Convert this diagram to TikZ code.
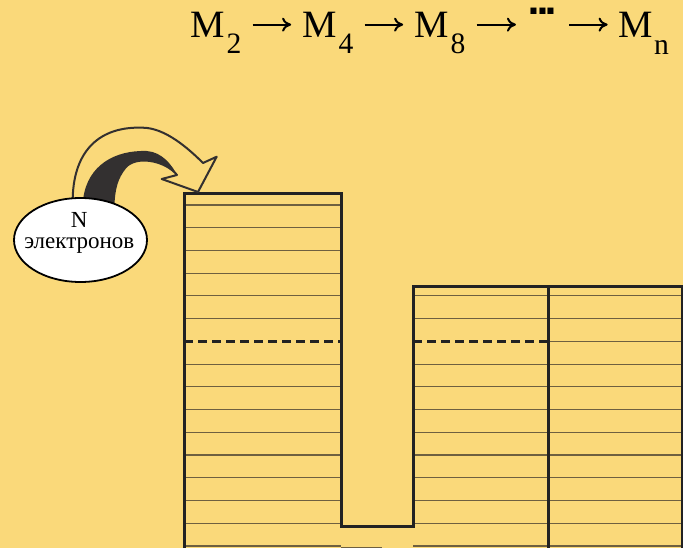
\documentclass[tikz,border=0pt]{standalone}
\usepackage{fontspec}
\usepackage{tikz}
\usetikzlibrary{positioning,arrows.meta,shapes.geometric}
\setmainfont{Liberation Serif}
\newfontfamily\dotfont{DejaVu Sans}
\newcommand{\titleM}{\fontsize{38.7}{38.7}\selectfont}
\newcommand{\titleSub}{\fontsize{29.6}{29.6}\selectfont}
\definecolor{wellBg}{HTML}{FAD97A}
\definecolor{wellWall}{HTML}{222222}
\definecolor{wellLevel}{HTML}{6E6040}
\definecolor{arrowDark}{HTML}{333030}
\tikzset{
  wall/.style={line width=3pt, draw=wellWall},
  level/.style={line width=1.1pt, draw=wellLevel},
  fermi/.style={wall, dash pattern=on 9pt off 5pt},
  electron/.style={ellipse, draw=black, line width=1.8pt, fill=white, minimum width=133pt, minimum height=84pt, inner sep=0pt},
  bigM/.style={inner sep=0pt, anchor=base, font=\titleM},
  subIdx/.style={inner sep=0pt, anchor=base, font=\titleSub},
  chainArrow/.style={-{Computer Modern Rightarrow[length=9pt,width=14pt]}, line width=2pt, shorten >=11pt, shorten <=11pt, yshift=-1.8pt}
}

\begin{document}
\begin{tikzpicture}[x=1pt, y=-1pt]
  \fill[wellBg] (0,0) rectangle (683,548);
  \useasboundingbox (0,0) rectangle (683,548);

  % energy levels
  \foreach \k in {0,...,15} {
    \ifnum\k=6\else
      \draw[level] (184,{205+22.73*\k}) -- (341,{205+22.73*\k});
    \fi
  }
  \foreach \k in {4,...,15} {
    \ifnum\k=6\else
      \draw[level] (413,{205+22.73*\k}) -- (548,{205+22.73*\k});
    \fi
    \draw[level] (548,{205+22.73*\k}) -- (682,{205+22.73*\k});
  }
  \draw[level, line width=2pt] (341,547.5) -- (382,547.5);

  % Fermi level
  \draw[fermi] (184,341.4) -- (341,341.4);
  \draw[fermi] (413,341.4) -- (548,341.4);

  % wells
  \draw[wall] (184,548) -- (184,194) -- (341,194) -- (341,526) -- (413,526) -- (413,287) -- (682,287) -- (682,548);
  \draw[wall] (548,287) -- (548,548);

  % curved arrow
  \draw[draw=arrowDark, line width=2pt, line join=round] (72.7,208) -- (72.7,198)
    .. controls (74,150) and (100,126) .. (143,127.7)
    .. controls (165,128) and (188,148) .. (203,163)
    -- (216.7,156.7) -- (198,192) -- (161.7,179) -- (177,175)
    .. controls (165,160) and (135,155) .. (125,168)
    .. controls (117,178) and (114,188) .. (113.3,208);
  \fill[arrowDark] (83.3,208) -- (83.3,198)
    .. controls (88,165) and (115,150) .. (146.7,151)
    .. controls (162,152) and (172,165) .. (177,175)
    .. controls (165,160) and (135,155) .. (125,168)
    .. controls (117,178) and (114,188) .. (113.3,208) -- cycle;

  \node[electron] (elec) at (80.5,240) {};
  \node[inner sep=0pt, align=center, font=\fontsize{23}{21.5}\selectfont] (elecLabel) at (79.3,232.8) {N\\электронов};

  % chain
  \node[bigM] (m2) at (207.8,37.3) {M};
  \node[subIdx] (s2) at (234,54) {2};
  \node[bigM] (m4) at (319.5,37.3) {M};
  \node[subIdx] (s4) at (346,54) {4};
  \node[bigM] (m8) at (431.5,37.3) {M};
  \node[subIdx] (s8) at (458,54) {8};
  \node[inner sep=0pt, anchor=base, text height=8pt, font=\dotfont\bfseries\fontsize{34}{34}\selectfont] (dots) at (542.5,15) {.\kern-4pt.\kern-4pt.};
  \node[bigM] (mn) at (636,37.3) {M};
  \node[subIdx] (sn) at (661.5,55) {n};

  \draw[chainArrow] (s2.east |- m2) -- (m4.west);
  \draw[chainArrow] (s4.east |- m4) -- (m8.west);
  \draw[chainArrow] (s8.east |- m8) -- (dots.west |- m8);
  \draw[chainArrow] (dots.east |- m8) -- (mn.west);
\end{tikzpicture}
\end{document}
